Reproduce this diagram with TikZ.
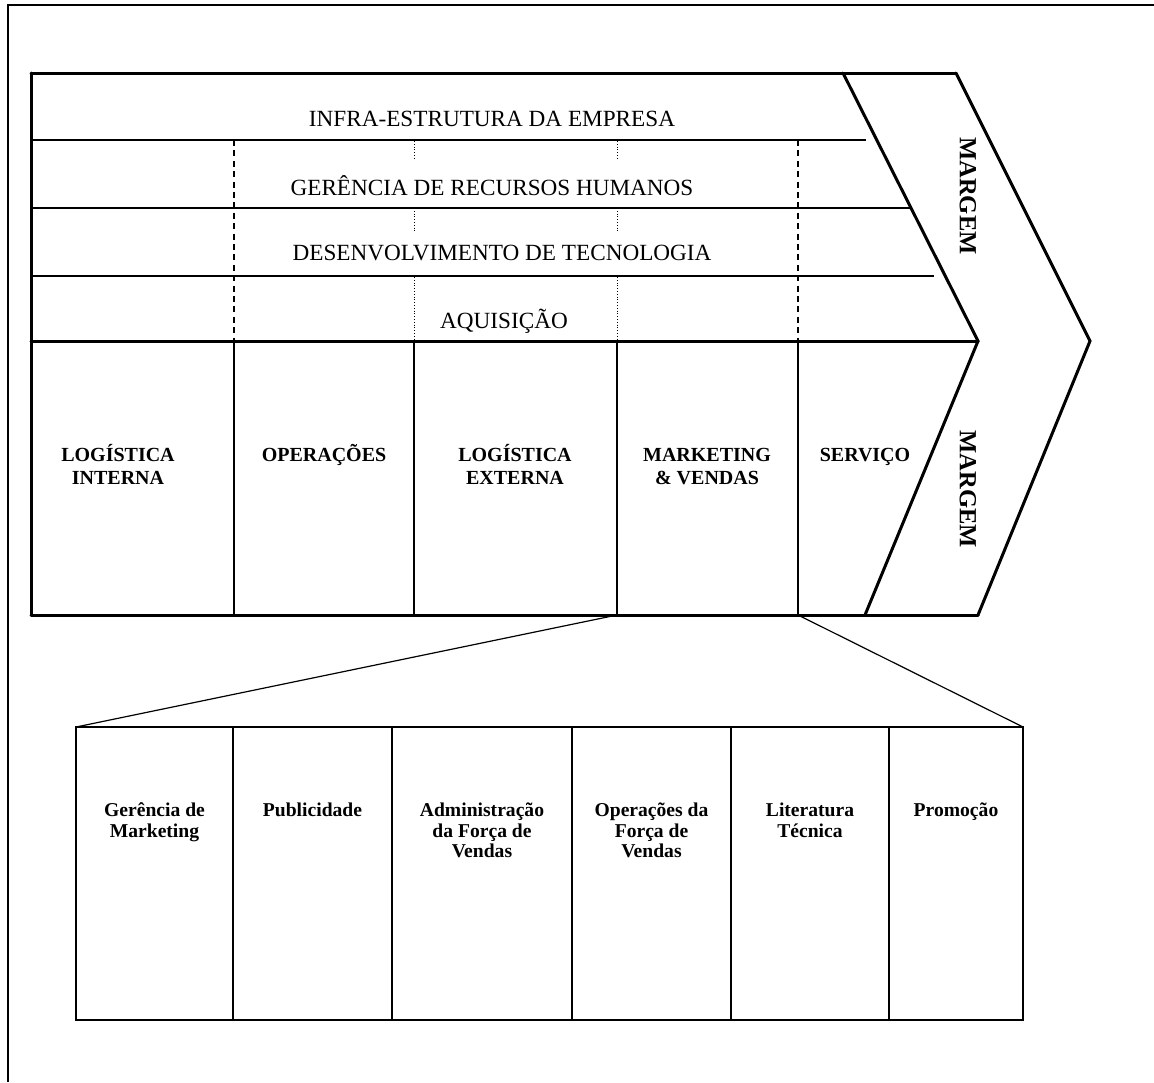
\documentclass[tikz,border=0pt]{standalone}
\usepackage{fontspec}
\setmainfont{Liberation Serif}
\begin{document}
\begin{tikzpicture}[x=0.5pt,y=-0.5pt,
  heavy/.style={line width=1.5pt,line cap=round,line join=miter},
  thin/.style={line width=0.6pt},
  frameline/.style={line width=0.8pt},
  dashsep/.style={line width=0.6pt,dash pattern=on 3pt off 2.2pt},
  dotsep/.style={line width=0.5pt,dash pattern=on 0.5pt off 0.9pt},
  support/.style={font=\fontsize{11.6}{13}\selectfont,inner sep=0pt},
  primary/.style={font=\fontsize{10}{11.6}\selectfont\bfseries,align=center,inner sep=0pt,anchor=north},
  subact/.style={font=\fontsize{9.8}{10.3}\selectfont\bfseries,align=center,inner sep=0pt,anchor=north},
  margin/.style={font=\fontsize{12.3}{14}\selectfont\bfseries,rotate=-90,inner sep=0pt}]
\useasboundingbox (0,0) rectangle (1154,1082);

% page frame (open to the right and bottom)
\draw[frameline] (8,1082) -- (8,5) -- (1154,5);

% corner points of the value chain
\coordinate (tl) at (31,73);
\coordinate (ml) at (31,341);
\coordinate (bl) at (31,615);
\coordinate (cinTop) at (843,73);
\coordinate (cinMid) at (978,341);
\coordinate (cinBot) at (865,615);
\coordinate (coutTop) at (956,73);
\coordinate (coutMid) at (1090,341);
\coordinate (coutBot) at (978,615);

% support activity rows
\draw[thin] (31,140) -- (866,140);
\draw[thin] (31,208) -- (910,208);
\draw[thin] (31,276) -- (934,276);

% dashed and dotted separators in the support rows
\draw[dashsep] (234,140) -- (234,341);
\draw[dashsep] (798,140) -- (798,341);
\foreach \xx in {414,617}{
  \draw[dotsep] (\xx,141) -- (\xx,160);
  \draw[dotsep] (\xx,208) -- (\xx,232);
  \draw[dotsep] (\xx,277) -- (\xx,341);
}

% primary activity columns
\coordinate (mkL) at (617,615);
\coordinate (mkR) at (798,615);
\foreach \xx in {234,414,617,798}{
  \draw[thin] (\xx,341) -- (\xx,615);
}

% outline and margin chevron
\draw[heavy] (tl) -- (coutTop);
\draw[heavy] (bl) -- (tl);
\draw[heavy] (ml) -- (cinMid);
\draw[heavy] (bl) -- (coutBot);
\draw[heavy] (cinTop) -- (cinMid) -- (cinBot);
\draw[heavy] (coutTop) -- (coutMid) -- (coutBot);

% support activity labels
\node[support] (infra) at (492,119) {INFRA-ESTRUTURA DA EMPRESA};
\node[support] (rh) at (492,186) {GERÊNCIA DE RECURSOS HUMANOS};
\node[support] (tec) at (502,253) {DESENVOLVIMENTO DE TECNOLOGIA};
\node[support] (aqu) at (504,321) {AQUISIÇÃO};

% primary activity labels (a common strut keeps the first lines level)
\newcommand{\toprow}{\vphantom{ÍÕ}}
\node[primary] (li) at (118,444) {\toprow LOGÍSTICA\\INTERNA};
\node[primary] (op) at (324,444) {\toprow OPERAÇÕES};
\node[primary] (le) at (515,444) {\toprow LOGÍSTICA\\EXTERNA};
\node[primary] (mv) at (707,444) {\toprow MARKETING\\\& VENDAS};
\node[primary] (sv) at (865,444) {\toprow SERVIÇO};

% margin labels
\node[margin] (m1) at (968,196) {MARGEM};
\node[margin] (m2) at (968,489) {MARGEM};

% marketing & sales breakdown
\coordinate (bxTL) at (76,727);
\coordinate (bxTR) at (1023,727);
\draw[thin] (bxTL) rectangle (1023,1020);
\foreach \xx in {233,392,572,731,889}{
  \draw[thin] (\xx,727) -- (\xx,1020);
}
\draw[thin] (mkL) -- (bxTL);
\draw[thin] (mkR) -- (bxTR);

\newcommand{\subrow}{\vphantom{êÊ}}
\node[subact] (gm) at (154.5,799) {\subrow Gerência de\\Marketing};
\node[subact] (pu) at (312.5,799) {\subrow Publicidade};
\node[subact] (af) at (482,799) {\subrow Administração\\da Força de\\Vendas};
\node[subact] (of) at (651.5,799) {\subrow Operações da\\Força de\\Vendas};
\node[subact] (lt) at (810,799) {\subrow Literatura\\Técnica};
\node[subact] (pr) at (956,799) {\subrow Promoção};
\end{tikzpicture}
\end{document}
